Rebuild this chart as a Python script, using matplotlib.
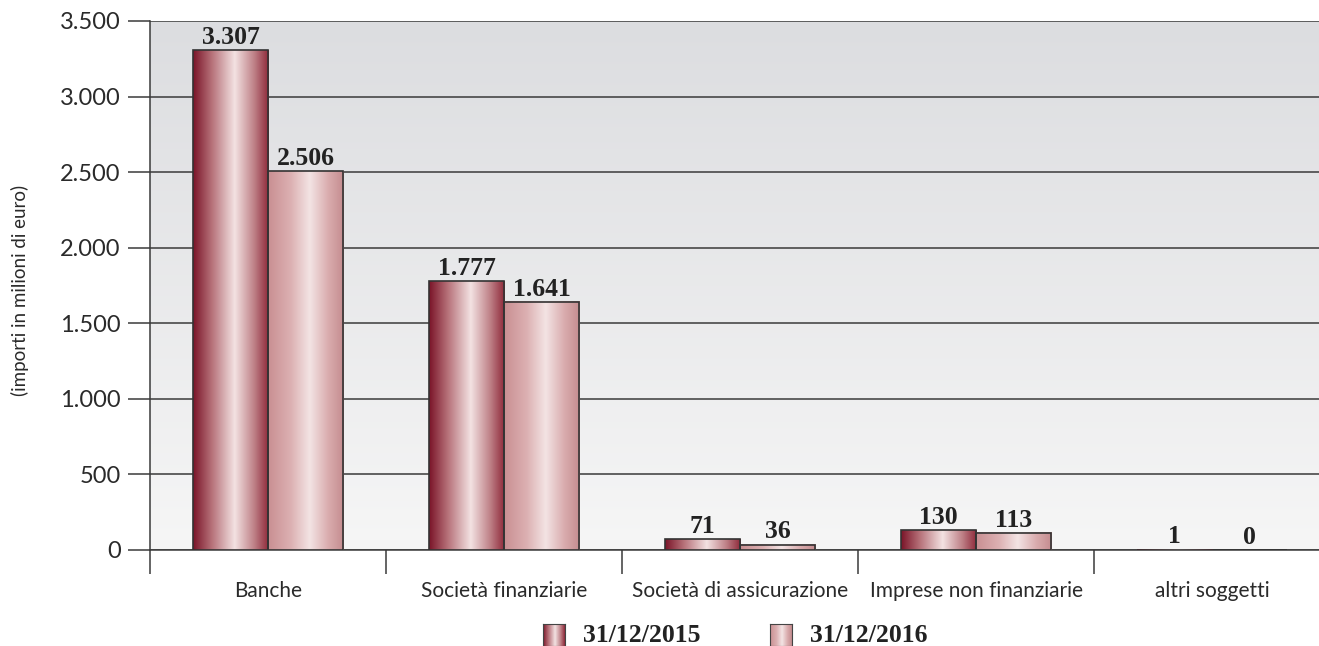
import numpy as np
import matplotlib.pyplot as plt
from matplotlib.colors import LinearSegmentedColormap
from matplotlib.ticker import FuncFormatter

categories = ['Banche', 'Società finanziarie', 'Società di assicurazione',
              'Imprese non finanziarie', 'altri soggetti']
series_names = ['31/12/2015', '31/12/2016']
values_2015 = [3307, 1777, 71, 130, 1]
values_2016 = [2506, 1641, 36, 113, 0]
y_ticks = [0, 500, 1000, 1500, 2000, 2500, 3000, 3500]

# cylinder-like gradients for the two series
cmap_2015 = LinearSegmentedColormap.from_list(
    'c15', [(0, '#7a1428'), (0.25, '#b7727a'), (0.55, '#f3e2e2'), (0.8, '#c0848a'), (1, '#8e2839')])
cmap_2016 = LinearSegmentedColormap.from_list(
    'c16', [(0, '#c98f92'), (0.3, '#dcb0b2'), (0.55, '#f3e4e4'), (0.8, '#d9abad'), (1, '#c48c8f')])
bg_cmap = LinearSegmentedColormap.from_list('bg', ['#f6f6f6', '#dcdde0'])

def it_fmt(v, pos=None):
    return '{:,.0f}'.format(v).replace(',', '.')

fig = plt.figure(figsize=(13.19, 6.46), dpi=100)
ax = fig.add_axes([150/1319, 1-550/646, 1180/1319, 529/646])

x = np.arange(len(categories)) + 0.5
w = 0.318
bars1 = ax.bar(x - w/2, values_2015, w, facecolor='none', edgecolor='#333333', linewidth=1.2, zorder=4)
bars2 = ax.bar(x + w/2, values_2016, w, facecolor='none', edgecolor='#333333', linewidth=1.2, zorder=4)

grad = np.linspace(0, 1, 256).reshape(1, -1)
for bars, cm in ((bars1, cmap_2015), (bars2, cmap_2016)):
    for b in bars:
        if b.get_height() <= 0:
            continue
        ax.imshow(grad, cmap=cm, aspect='auto', zorder=3,
                  extent=(b.get_x(), b.get_x() + b.get_width(), 0, b.get_height()))

# background gradient
ax.imshow(np.linspace(0, 1, 256).reshape(-1, 1), cmap=bg_cmap, aspect='auto', origin='lower',
          extent=(0, len(categories), 0, 3500), zorder=0)

ax.set_xlim(0, len(categories))
ax.set_ylim(0, 3500)
ax.set_yticks(y_ticks)
ax.yaxis.set_major_formatter(FuncFormatter(it_fmt))
ax.grid(axis='y', color='#3a3a3a', linewidth=1.1, zorder=1)
ax.set_axisbelow(False)
for ln in ax.get_ygridlines():
    ln.set_zorder(1)

ax.tick_params(axis='y', length=16, width=1.1, color='#3a3a3a', pad=5,
               labelsize=17, labelcolor='#2a2a2a')
for t in ax.get_yticklabels():
    t.set_family('Lato')

ax.set_xticks(np.arange(len(categories) + 1))
ax.set_xticklabels([])
ax.tick_params(axis='x', which='major', length=17, width=1.1, color='#3a3a3a')
ax.set_xticks(x, minor=True)
ax.set_xticklabels(categories, minor=True, fontsize=15, family='Lato', color='#2a2a2a')
ax.tick_params(axis='x', which='minor', length=0, pad=22)

for s in ('top', 'right'):
    ax.spines[s].set_visible(False)
ax.spines['left'].set_color('#3a3a3a')
ax.spines['bottom'].set_color('#3a3a3a')
ax.spines['left'].set_linewidth(1.1)
ax.spines['bottom'].set_linewidth(1.1)

for bars, vals in ((bars1, values_2015), (bars2, values_2016)):
    ax.bar_label(bars, labels=[it_fmt(v) for v in vals], padding=1, fontsize=18.5,
                 fontweight='bold', family='Liberation Serif', color='#222222', zorder=5)

fig.text(20/1319, 1-290/646, '(importi in milioni di euro)', rotation=90, ha='center', va='center',
         fontsize=13.5, family='Lato', color='#2a2a2a')

# legend drawn by hand at the bottom
leg_x = [543, 770]
for i, (name, cm) in enumerate(zip(series_names, (cmap_2015, cmap_2016))):
    lax = fig.add_axes([leg_x[i]/1319, 0, 22/1319, 22/646])
    lax.imshow(grad, cmap=cm, aspect='auto')
    lax.set_xticks([])
    lax.set_yticks([])
    for sp in lax.spines.values():
        sp.set_color('#444444')
    fig.text((leg_x[i] + 40)/1319, 1-635/646, name, ha='left', va='center', fontsize=18.5,
             fontweight='bold', family='Liberation Serif', color='#222222')

fig.savefig('out.png', dpi=100)
